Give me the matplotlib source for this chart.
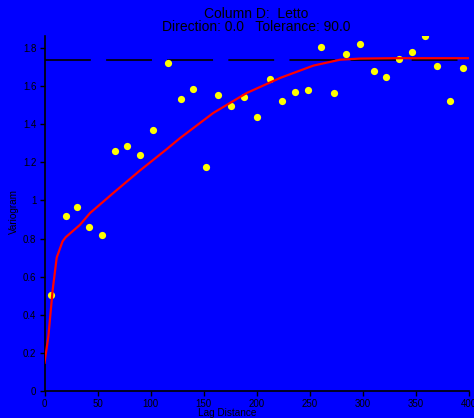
import matplotlib
matplotlib.use("Agg")
import matplotlib.pyplot as plt

plt.rcParams['font.family'] = ['Liberation Sans', 'DejaVu Sans']
plt.rcParams['lines.scale_dashes'] = False

# Experimental variogram points
lags = [6.1, 20.0, 30.3, 42.2, 54.5, 66.7, 78.0, 90.0, 102.5, 116.0, 128.3, 140.2,
        152.2, 163.8, 176.0, 188.3, 200.0, 212.2, 224.0, 236.0, 248.0, 260.5, 272.5,
        284.4, 297.3, 310.0, 321.8, 334.3, 346.3, 358.2, 369.8, 382.0, 394.0]
gamma = [0.504, 0.916, 0.968, 0.863, 0.816, 1.262, 1.288, 1.241, 1.372, 1.725, 1.536,
         1.586, 1.174, 1.553, 1.498, 1.546, 1.441, 1.639, 1.525, 1.572, 1.579, 1.809,
         1.563, 1.771, 1.823, 1.683, 1.649, 1.744, 1.783, 1.867, 1.705, 1.525, 1.695]

# Model curve
model_lag = [0, 3.6, 7.7, 11.5, 17.0, 20.0, 33.4, 42.9, 66.4, 90.0, 114.5, 127.7,
             159.0, 190.5, 221.9, 253.3, 278.4, 297.0, 330.0, 400.0]
model_val = [0.147, 0.284, 0.53, 0.70, 0.785, 0.807, 0.872, 0.934, 1.047, 1.158, 1.267,
             1.328, 1.46, 1.565, 1.644, 1.709, 1.740, 1.746, 1.748, 1.748]

sill = 1.74

xticks = [0, 50, 100, 150, 200, 250, 300, 350, 400]
yticks = [0, 0.2, 0.4, 0.6, 0.8, 1.0, 1.2, 1.4, 1.6, 1.8]
ytick_labels = ['0', '0.2', '0.4', '0.6', '0.8', '1', '1.2', '1.4', '1.6', '1.8']

blue = '#0000FF'
fig = plt.figure(figsize=(4.74, 4.18), dpi=100, facecolor=blue)
ax = fig.add_axes([0.0939, 0.0653, 0.8956, 0.8487])
ax.set_facecolor(blue)

ax.plot([0, 400], [sill, sill], color='black', lw=1.2, dashes=(33, 11), zorder=2)
ax.plot(model_lag, model_val, color='#FF0000', lw=1.6, zorder=4, solid_joinstyle='round')
ax.plot(lags, gamma, 'o', color='#FFFF00', markersize=5.2, markeredgewidth=0, zorder=3)

ax.set_xlim(0, 400)
ax.set_ylim(0, 1.865)
ax.set_xticks(xticks)
ax.set_xticklabels([str(t) for t in xticks])
ax.set_yticks(yticks)
ax.set_yticklabels(ytick_labels)

for s in ['top', 'right']:
    ax.spines[s].set_visible(False)
for s in ['left', 'bottom']:
    ax.spines[s].set_color('black')
    ax.spines[s].set_linewidth(1.2)

ax.tick_params(axis='both', direction='out', length=3.8, width=1, colors='black',
               labelsize=7, pad=2)
for lbl in ax.get_xticklabels() + ax.get_yticklabels():
    lbl.set_clip_on(False)

ax.set_xlabel('Lag Distance', fontsize=7.2)
ax.xaxis.set_label_coords(0.205 / 0.8956 + 0.0, -0.0)  # placeholder, set below
ax.set_ylabel('Variogram', fontsize=7.2)

# Position axis labels in figure coordinates
ax.xaxis.set_label_coords(227 / 474, 5 / 418, transform=fig.transFigure)
ax.yaxis.set_label_coords(14 / 474, 1 - 212 / 418, transform=fig.transFigure)
ax.xaxis.label.set_va('center')
ax.yaxis.label.set_va('center')

fig.text(0.541, 0.9665, 'Column D:  Letto', ha='center', va='center', fontsize=10)
fig.text(0.541, 0.936, 'Direction: 0.0   Tolerance: 90.0', ha='center', va='center', fontsize=10)

fig.savefig('out.png', dpi=100, facecolor=blue)
